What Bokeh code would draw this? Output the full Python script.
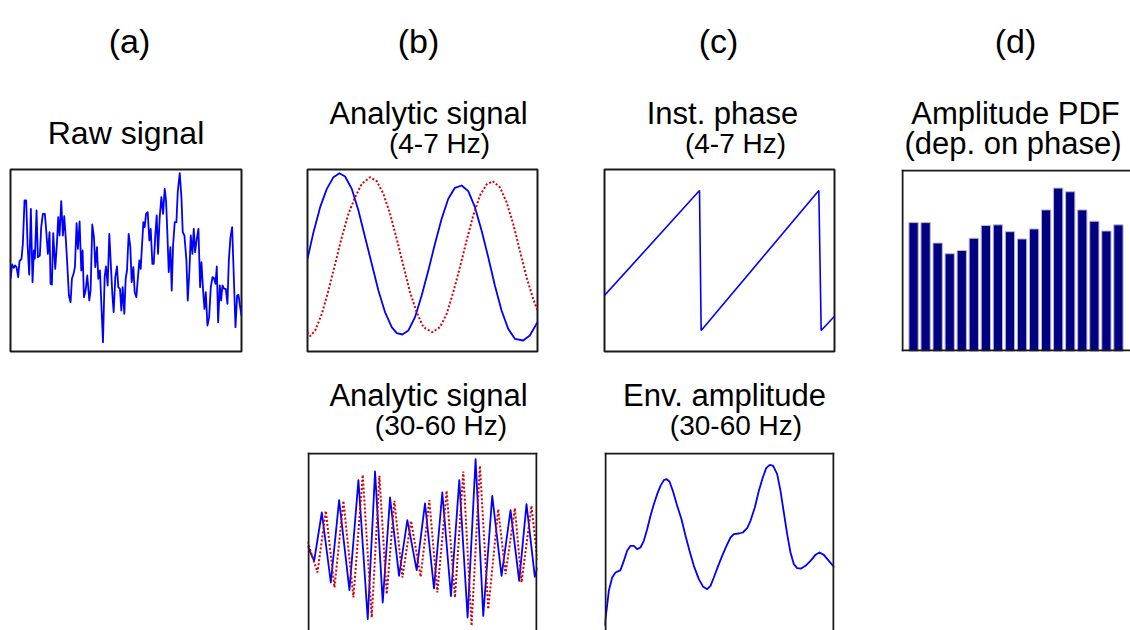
from bokeh.plotting import figure
from bokeh.layouts import row, column
from bokeh.models import Span, Range1d, Spacer, ColumnDataSource
from bokeh.core.properties import value
from bokeh.embed import file_html
from bokeh.resources import INLINE

# ---------------- data ----------------
# (a) raw signal
raw_t = [0, 5, 10, 14, 18, 23, 27, 33, 37, 42, 47, 51, 56, 61, 66, 70, 73, 78, 82, 88, 92, 97, 103, 107,
         112, 117, 120, 124, 128, 134, 139, 143, 147, 152, 157, 161, 166, 170, 175, 180, 184, 189, 193,
         198, 202, 207, 212, 216, 220, 225, 230, 236, 240, 245, 250, 254, 259, 263, 268, 273, 277, 282,
         286, 291, 296, 300, 305, 309, 314, 319, 323, 328, 332, 336, 341, 345, 349, 354, 359, 363, 368,
         372, 377, 381, 386, 390, 394, 398, 402, 406, 411, 416, 420, 425, 429, 434, 438, 442, 447, 452,
         457, 462, 466, 470, 474, 479, 483, 487, 492, 497, 501, 507, 512, 516, 521, 527, 531, 536, 540,
         545, 549, 553, 558, 563, 568, 572, 577, 581, 585, 590, 595, 600, 605, 609, 614, 618, 622, 627,
         631, 635, 640, 645, 650, 654, 659, 664, 670, 674, 679, 683, 688, 692]
raw_v = [-0.55, -0.12, -0.22, -0.15, -0.20, -0.50, -0.02, 0.05, 0.50, 1.80, 1.80, 0.50, -0.42, 1.55,
         -0.65, 0.30, 0.05, 1.50, 0.10, 0.15, 1.00, 1.40, 1.40, 0.90, 0.20, 0.85, -0.70, -0.72, 0.82,
         -0.25, 0.50, 1.30, 0.75, 1.78, 0.75, 1.33, 0.60, -0.10, -1.05, -1.25, -0.55, -0.40, -0.20,
         1.12, 0.35, 1.17, -0.30, 0.30, -1.10, -0.90, -0.45, -1.20, -0.90, 1.08, 0.70, -0.20, 0.40,
         -0.55, -0.30, -1.50, -2.45, -0.50, -0.18, -0.75, 0.80, 0.00, -1.00, -1.55, -0.50, -0.18,
         -0.80, -0.85, -1.50, -0.80, -1.60, -0.55, -0.30, 0.80, 0.40, -0.65, -0.20, -0.95, -1.10,
         -0.60, 0.00, -0.25, 0.45, 1.15, 1.00, 1.40, 1.45, 0.60, 0.95, -0.10, -0.10, 0.80, 1.35, 0.20,
         1.30, 1.90, 1.40, 2.15, 1.80, 0.80, -0.35, 0.40, -0.90, 0.45, 1.15, 1.15, 2.05, 2.62, 1.90,
         0.85, 0.75, 0.00, -1.20, -0.30, 0.75, 0.20, 0.95, 0.25, 0.65, 0.95, -0.80, -0.05, -0.90,
         -1.45, -0.95, -1.95, -1.70, -0.80, -0.50, -0.52, -0.70, -0.18, -1.85, -0.75, -1.20, -0.75,
         -0.85, -0.85, -1.30, 0.00, 0.70, 1.00, -0.80, -2.00, -1.05, -1.03, -1.40, -1.65]

# (b) analytic signal 4-7 Hz : real (blue) and imaginary (red dotted) parts
theta_t_re = [0, 18, 38, 58, 78, 96, 113, 133, 153, 173, 193, 213, 233, 253, 268, 285, 303, 323, 343,
              363, 383, 403, 423, 443, 463, 483, 503, 523, 543, 563, 583, 603, 623, 648, 668, 691]
theta_re = [0.05, 0.85, 1.60, 2.15, 2.50, 2.62, 2.52, 2.15, 1.50, 0.70, -0.10, -0.90, -1.55, -2.00,
            -2.18, -2.22, -2.10, -1.70, -1.05, -0.30, 0.50, 1.25, 1.85, 2.18, 2.25, 2.08, 1.60, 0.90,
            0.10, -0.75, -1.50, -2.05, -2.35, -2.40, -2.25, -1.85]
theta_t_im = [0, 8, 23, 43, 63, 83, 103, 123, 143, 163, 188, 208, 228, 248, 268, 288, 308, 328, 348,
              375, 398, 418, 438, 458, 478, 498, 518, 538, 556, 578, 598, 618, 638, 658, 678, 691]
theta_im = [-2.15, -2.27, -2.10, -1.60, -0.90, -0.10, 0.70, 1.40, 1.90, 2.30, 2.50, 2.38, 2.00, 1.40,
            0.65, -0.15, -0.95, -1.55, -2.00, -2.15, -2.00, -1.60, -0.95, -0.20, 0.60, 1.35, 1.95,
            2.28, 2.38, 2.20, 1.75, 1.10, 0.30, -0.50, -1.15, -1.50]

# (b) analytic signal 30-60 Hz
gamma_t_re = [0, 20, 43, 70, 95, 126, 153, 181, 203, 226, 248, 275, 300, 328, 353, 380, 405, 431, 456,
              481, 505, 528, 555, 583, 610, 636, 658, 683, 691]
gamma_re = [-0.05, -0.50, 0.95, -1.15, 1.32, -1.38, 1.92, -2.25, 2.18, -1.75, 1.40, -0.95, 0.72,
            -0.78, 1.22, -1.33, 1.55, -1.56, 1.92, -2.20, 2.55, -2.15, 1.45, -0.95, 1.02, -1.10, 1.20,
            -0.98, -0.70]
gamma_t_im = [0, 30, 55, 81, 108, 138, 166, 193, 216, 238, 261, 285, 311, 340, 366, 390, 418, 443, 468,
              493, 518, 543, 573, 595, 623, 643, 673, 691]
gamma_im = [0.08, -0.85, 1.00, -1.30, 1.30, -1.60, 2.08, -2.20, 2.05, -1.50, 1.30, -1.00, 0.70, -0.98,
            1.32, -1.45, 1.60, -1.60, 2.18, -2.45, 2.35, -1.95, 1.05, -0.90, 1.08, -1.15, 1.15, -0.50]

# (c) instantaneous phase 4-7 Hz (rad)
phase_t = [0, 285, 290, 643, 650, 690]
phase_v = [-1.57, 3.14, -3.14, 3.14, -3.14, -2.50]

# (c) envelope amplitude 30-60 Hz
env_t = [0, 6, 13, 23, 33, 48, 58, 68, 78, 88, 98, 108, 118, 128, 138, 148, 158, 168, 178, 186, 195,
         205, 218, 231, 243, 255, 268, 283, 296, 308, 318, 328, 341, 353, 366, 378, 388, 403, 415, 428,
         438, 451, 463, 475, 485, 496, 506, 518, 528, 538, 548, 558, 568, 578, 590, 603, 618, 633, 645,
         658, 673, 690]
env_v = [0.15, 0.60, 1.20, 1.60, 1.75, 1.82, 2.10, 2.40, 2.55, 2.55, 2.45, 2.50, 2.70, 3.05, 3.45, 3.80,
         4.10, 4.35, 4.52, 4.55, 4.48, 4.20, 3.75, 3.35, 2.85, 2.40, 1.95, 1.55, 1.32, 1.25, 1.35, 1.60,
         1.95, 2.25, 2.55, 2.80, 2.90, 2.92, 2.95, 3.08, 3.30, 3.70, 4.20, 4.60, 4.88, 4.98, 4.95, 4.70,
         4.20, 3.55, 2.90, 2.35, 2.00, 1.88, 1.87, 1.95, 2.10, 2.28, 2.35, 2.28, 2.10, 1.90]

# (d) amplitude distribution over 18 phase bins
pdf_bin = list(range(1, 19))
pdf_val = [0.0568, 0.0568, 0.0478, 0.0431, 0.0445, 0.0499, 0.0555, 0.0558, 0.0528, 0.0496, 0.0540,
           0.0624, 0.0720, 0.0704, 0.0624, 0.0574, 0.0531, 0.0558]

# panel letters and titles
heads = ["(a)", "(b)", "(c)", "(d)"]
top_titles = ["Raw signal", "Analytic signal", "(4-7 Hz)", "Inst. phase", "(4-7 Hz)",
              "Amplitude PDF", "(dep. on phase)"]
bottom_titles = ["Analytic signal", "(30-60 Hz)", "Env. amplitude", "(30-60 Hz)"]

# ---------------- styling / layout ----------------
FONT = "Liberation Sans"
BLUE = "#0000ff"
RED = "#d40000"
EDGE = "#1a1a1a"
W = 1130

heads_x, heads_y = [129, 418, 718, 1015], [40, 40, 40, 40]
top_x = [125.5, 428, 439, 722, 735, 1015, 1012.5]
top_y = [132, 113, 143, 113, 143, 113, 143]
top_size = ["32px", "31px", "28px", "31px", "28px", "31px", "31px"]
bot_x = [428, 440.5, 724, 735.5]
bot_y = [395, 425, 395, 425]
bot_size = ["31px", "28px", "31px", "28px"]


def blank(width, height, xr, yr):
    p = figure(width=width, height=height, x_range=Range1d(*xr), y_range=Range1d(*yr),
               x_axis_location=None, y_axis_location=None, toolbar_location=None,
               output_backend="svg", min_border=0)
    p.grid.visible = False
    p.outline_line_color = None
    p.background_fill_color = "white"
    p.border_fill_color = "white"
    return p


def make_fig(width, height, bl, br, bt, bb, xr, yr, outline=True):
    p = figure(width=width, height=height, x_range=Range1d(*xr), y_range=Range1d(*yr),
               x_axis_location=None, y_axis_location=None, toolbar_location=None,
               output_backend="svg", min_border_left=bl, min_border_right=br,
               min_border_top=bt, min_border_bottom=bb)
    p.grid.visible = False
    p.background_fill_color = "white"
    p.border_fill_color = "white"
    if outline:
        p.outline_line_color = EDGE
        p.outline_line_width = 2
    else:
        p.outline_line_color = None
    return p


def add_edges(p, sides, fw, fh):
    # frame edges drawn 1px inside the frame, for panels cut by the picture border
    x0, x1 = p.x_range.start, p.x_range.end
    y0, y1 = p.y_range.start, p.y_range.end
    px = (x1 - x0) / fw
    py = (y1 - y0) / fh
    for s in sides:
        if s == "left":
            sp = Span(location=x0 + px, dimension="height")
        elif s == "right":
            sp = Span(location=x1 - px, dimension="height")
        elif s == "top":
            sp = Span(location=y1 - py, dimension="width")
        else:
            sp = Span(location=y0 + py, dimension="width")
        sp.line_color = EDGE
        sp.line_width = 2
        p.add_layout(sp)


# ---- header with letters and top-row titles (page pixel coordinates)
H1 = 168
head1 = blank(W, H1, (0, W), (H1, 0))
head1.text(heads_x, heads_y, text=heads, text_font=value(FONT), text_font_size=value("34px"),
           text_align="center", text_baseline="alphabetic", text_color="black")
src_top = ColumnDataSource(dict(x=top_x, y=top_y, text=top_titles, size=top_size))
head1.text(x="x", y="y", text="text", source=src_top, text_font=value(FONT), text_font_size="size",
           text_align="center", text_baseline="alphabetic", text_color="black")

ROW1_H = 192   # frame 169..351
# ---- (a) raw signal
fa = make_fig(270, ROW1_H, 10, 29, 1, 9, (0, 692), (-2.73, 2.73))
fa.line(raw_t, raw_v, line_color=BLUE, line_width=1.8, line_join="round")

# ---- (b) analytic signal 4-7 Hz
fb1 = make_fig(297, ROW1_H, 37, 30, 1, 9, (0, 691), (-2.73, 2.73))
fb1.line(theta_t_re, theta_re, line_color=BLUE, line_width=1.8, line_join="round")
fb1.line(theta_t_im, theta_im, line_color=RED, line_width=2, line_dash="2 2")

# ---- (c) instantaneous phase
fc1 = make_fig(297, ROW1_H, 37, 30, 1, 9, (0, 690), (-4.084, 4.084))
fc1.line(phase_t, phase_v, line_color=BLUE, line_width=1.6)

# ---- (d) amplitude PDF (cut at the right edge)
fd = make_fig(266, ROW1_H, 37, 0, 1, 9, (0, 19), (0, 0.0802), outline=False)
fd.vbar(x=pdf_bin, top=pdf_val, bottom=0, width=0.77, fill_color="#000080",
        line_color="#b8b8d0", line_width=1)
add_edges(fd, ["left", "top", "bottom"], 229, 182)

# ---- header for bottom-row titles (page pixel coordinates 360..451)
H2 = 91
head2 = blank(W, H2, (0, W), (360 + H2, 360))
src_bot = ColumnDataSource(dict(x=bot_x, y=bot_y, text=bottom_titles, size=bot_size))
head2.text(x="x", y="y", text="text", source=src_bot, text_font=value(FONT), text_font_size="size",
           text_align="center", text_baseline="alphabetic", text_color="black")

ROW2_H = 179   # frame 452..630
# ---- (b) analytic signal 30-60 Hz (cut at the bottom edge)
fb2 = make_fig(297, ROW2_H, 37, 30, 1, 0, (0, 691), (-2.59, 2.75), outline=False)
fb2.line(gamma_t_re, gamma_re, line_color=BLUE, line_width=1.8, line_join="round")
fb2.line(gamma_t_im, gamma_im, line_color=RED, line_width=2, line_dash="2 2")
add_edges(fb2, ["left", "right", "top"], 230, 178)

# ---- (c) envelope amplitude 30-60 Hz
fc2 = make_fig(297, ROW2_H, 37, 30, 1, 0, (0, 690), (0.01, 5.35), outline=False)
fc2.line(env_t, env_v, line_color=BLUE, line_width=1.8, line_join="round")
add_edges(fc2, ["left", "right", "top"], 230, 178)

layout = column(head1,
                row(fa, fb1, fc1, fd),
                head2,
                row(Spacer(width=270, height=ROW2_H), fb2, fc2))

open("out.html", "w").write(file_html(layout, INLINE))
